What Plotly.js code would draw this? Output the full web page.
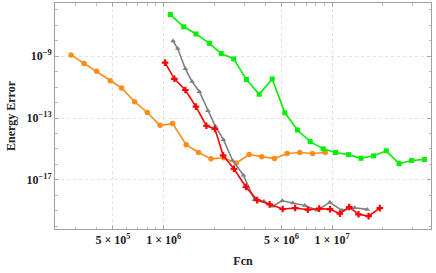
<!DOCTYPE html>
<html>
<head>
<meta charset="utf-8">
<script src="https://cdn.plot.ly/plotly-3.0.1.min.js"></script>
<style>html,body{margin:0;padding:0;background:#fff;}#chart{width:436px;height:273px;}</style>
</head>
<body>
<div id="chart"></div>
<script>
// Orange series (circles)
const orangeX = [2.82e5, 3.37e5, 4.00e5, 4.82e5, 5.63e5, 6.72e5, 8.00e5, 9.52e5, 1.131e6, 1.36e6, 1.61e6, 1.91e6, 2.27e6, 2.70e6, 3.22e6, 3.82e6, 4.55e6, 5.41e6, 6.43e6, 7.65e6, 9.10e6];
const orangeY = [1.23e-9, 3.4e-10, 1.07e-10, 2.6e-11, 8.9e-12, 1.15e-12, 2.3e-13, 3.4e-14, 4.4e-14, 1.9e-15, 5.9e-16, 2.3e-16, 2.7e-16, 1.23e-16, 4.4e-16, 3.2e-16, 2.4e-16, 5.1e-16, 5.9e-16, 5.1e-16, 5.9e-16];

// Green series (squares)
const greenX = [1.096e6, 1.315e6, 1.557e6, 1.868e6, 2.197e6, 2.606e6, 3.10e6, 3.69e6, 4.41e6, 5.24e6, 6.23e6, 7.41e6, 8.85e6, 1.048e7, 1.252e7, 1.485e7, 1.762e7, 2.097e7, 2.497e7, 2.964e7, 3.53e7];
const greenY = [5.0e-7, 8.1e-8, 2.8e-8, 6.9e-9, 1.5e-9, 6.8e-10, 3.1e-11, 3.5e-12, 3.4e-11, 2.2e-13, 1.7e-14, 3.0e-15, 1.02e-15, 5.9e-16, 4.3e-16, 2.5e-16, 3.6e-16, 7.6e-16, 1.12e-16, 1.78e-16, 2.1e-16];

// Red series (crosses)
const redX = [1.019e6, 1.158e6, 1.345e6, 1.554e6, 1.794e6, 2.015e6, 2.254e6, 2.612e6, 3.079e6, 3.589e6, 4.258e6, 5.088e6, 6.036e6, 7.17e6, 8.38e6, 9.72e6, 1.111e7, 1.264e7, 1.435e7, 1.646e7, 1.920e7];
const redY = [3.9e-10, 3.5e-11, 6.6e-12, 5.5e-13, 3.2e-14, 2.0e-14, 3.9e-16, 5.2e-17, 3.5e-18, 4.9e-19, 2.6e-19, 1.3e-19, 1.5e-19, 1.17e-19, 1.38e-19, 1.26e-19, 6.5e-20, 1.74e-19, 5.9e-20, 4.5e-20, 1.48e-19];

// Gray series (triangles)
const grayX = [1.137e6, 1.211e6, 1.345e6, 1.475e6, 1.630e6, 1.830e6, 2.028e6, 2.263e6, 2.570e6, 2.976e6, 3.459e6, 3.938e6, 4.425e6, 5.053e6, 5.834e6, 6.883e6, 8.135e6, 9.676e6, 1.145e7, 1.359e7, 1.617e7];
const grayY = [9.8e-9, 3.2e-9, 1.55e-10, 2.3e-11, 5.1e-12, 3.0e-13, 2.95e-14, 4.0e-15, 1.74e-16, 2.0e-17, 5.1e-19, 4.1e-19, 1.95e-19, 4.4e-19, 3.2e-19, 2.2e-19, 1.07e-19, 3.5e-19, 1.07e-19, 1.55e-19, 1.23e-19];

const xTickVals = [5e5, 1e6, 5e6, 1e7];
const xTickText = ['5 × 10<sup>5</sup>', '1 × 10<sup>6</sup>', '5 × 10<sup>6</sup>', '1 × 10<sup>7</sup>'];
const yTickVals = [1e-9, 1e-13, 1e-17];
const yTickText = ['10<sup>−9</sup>', '10<sup>−13</sup>', '10<sup>−17</sup>'];

function minorLog(lo, hi) {
  const out = [];
  for (let e = lo; e <= hi; e++) for (let m = 1; m < 10; m++) out.push(m * Math.pow(10, e));
  return out;
}
function decades(lo, hi) {
  const out = [];
  for (let e = lo; e <= hi; e++) out.push(Math.pow(10, e));
  return out;
}

const serif = 'Liberation Serif, Times New Roman, serif';

const traces = [
  {x: orangeX, y: orangeY, mode: 'lines+markers', line: {color: '#ff8c1a', width: 1.6}, marker: {symbol: 'circle', size: 5.5, color: '#ff8c1a'}},
  {x: greenX, y: greenY, mode: 'lines+markers', line: {color: '#00f000', width: 1.6}, marker: {symbol: 'square', size: 5, color: '#00f000'}},
  {x: grayX, y: grayY, mode: 'lines+markers', line: {color: '#808080', width: 1.6}, marker: {symbol: 'triangle-up', size: 5, color: '#808080'}},
  {x: redX, y: redY, mode: 'lines+markers', line: {color: '#ff0000', width: 1.6}, marker: {symbol: 'cross', size: 5.5, color: '#ff0000'}}
];

const layout = {
  width: 436, height: 273,
  margin: {l: 55, r: 5, t: 3, b: 44},
  paper_bgcolor: '#fff', plot_bgcolor: '#fff',
  showlegend: false,
  font: {family: serif, color: '#222', size: 12},
  xaxis: {
    type: 'log', range: [5.355, 7.587],
    tickvals: xTickVals, ticktext: xTickText,
    ticks: 'inside', ticklen: 4, tickcolor: '#aaa',
    showline: true, linecolor: '#a0a0a0', linewidth: 1, mirror: 'allticks',
    showgrid: true, gridcolor: '#e2e2e2', griddash: 'dot', gridwidth: 1,
    zeroline: false,
    tickfont: {family: serif, size: 12, color: '#222', weight: 'bold'},
    minor: {tickvals: minorLog(5, 7), ticks: 'inside', ticklen: 2.5, tickcolor: '#bbb', showgrid: false},
    title: {text: '<b>Fcn</b>', font: {family: serif, size: 12, color: '#222'}, standoff: 10}
  },
  yaxis: {
    type: 'log', range: [-20.18, -5.55],
    tickvals: yTickVals, ticktext: yTickText,
    ticks: 'inside', ticklen: 4, tickcolor: '#aaa',
    showline: true, linecolor: '#a0a0a0', linewidth: 1, mirror: 'allticks',
    showgrid: true, gridcolor: '#e2e2e2', griddash: 'dot', gridwidth: 1,
    zeroline: false,
    tickfont: {family: serif, size: 12, color: '#222', weight: 'bold'},
    minor: {tickvals: decades(-20, -6), ticks: 'inside', ticklen: 2.5, tickcolor: '#bbb', showgrid: false},
    title: {text: '<b>Energy Error</b>', font: {family: serif, size: 12, color: '#222'}, standoff: 8}
  }
};

Plotly.newPlot('chart', traces, layout, {staticPlot: true, displayModeBar: false});
</script>
</body>
</html>
